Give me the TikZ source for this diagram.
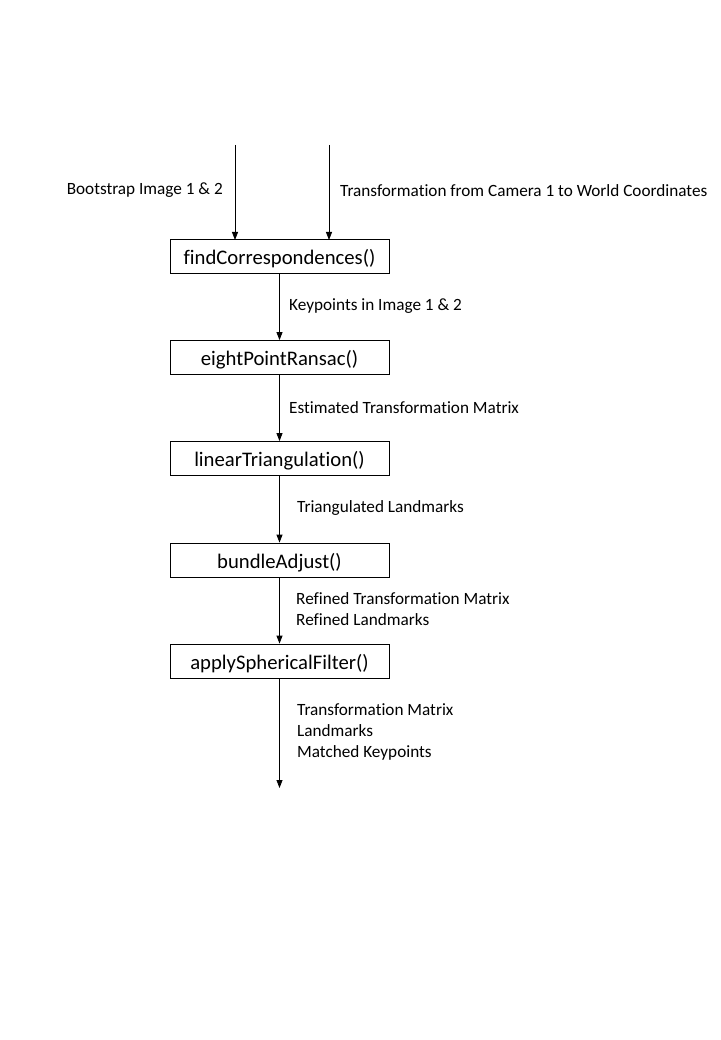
\documentclass[tikz,border=0pt]{standalone}
\usepackage{fontspec}
\setmainfont{Carlito}[Ligatures=NoCommon]
\usetikzlibrary{arrows.meta}
\begin{document}
\begin{tikzpicture}[x=1pt,y=-1pt,
  fnbox/.style={draw,line width=0.8pt,minimum width=219pt,minimum height=34pt,inner sep=0pt,text height=17pt,text depth=1pt,font=\fontsize{20.7}{24}\selectfont},
  lbl/.style={anchor=west,inner sep=0pt,align=left,font=\fontsize{17.2}{21}\selectfont},
  arr/.style={line width=0.8pt,-{Triangle[length=8pt,width=6pt]}}]
\useasboundingbox (0,0) rectangle (720,1040);
\node[fnbox] (b1) at (279.5,256.5) {findCorrespondences()};
\node[fnbox] (b2) at (279.5,357.5) {eightPointRansac()};
\node[fnbox] (b3) at (279.5,458.5) {linearTriangulation()};
\node[fnbox] (b4) at (279.5,560) {bundleAdjust()};
\node[fnbox] (b5) at (279.5,661) {applySphericalFilter()};
\coordinate (s1) at (235,145);
\coordinate (s2) at (329,145);
\coordinate (e1) at (235,240);
\coordinate (e2) at (329,240);
\coordinate (out) at (279.5,788);
\draw[arr] (s1) -- (e1);
\draw[arr] (s2) -- (e2);
\draw[arr] (b1.south) -- (b2.north);
\draw[arr] (b2.south) -- (b3.north);
\draw[arr] (b3.south) -- (b4.north);
\draw[arr] (b4.south) -- (b5.north);
\draw[arr] (b5.south) -- (out);
\node[lbl,anchor=east] (l0) at (223,190.5) {Bootstrap Image 1 \& 2};
\node[lbl] (l1) at (340,190.5) {Transformation from Camera 1 to World Coordinates};
\node[lbl] (l2) at (289,306.5) {Keypoints in Image 1 \& 2};
\node[lbl] (l3) at (289,407.5) {Estimated Transformation Matrix};
\node[lbl] (l4) at (297,508.5) {Triangulated Landmarks};
\node[lbl] (l5) at (296,609) {Refined Transformation Matrix\\Refined Landmarks};
\node[lbl] (l6) at (297,731.5) {Transformation Matrix\\Landmarks\\Matched Keypoints};
\end{tikzpicture}
\end{document}
